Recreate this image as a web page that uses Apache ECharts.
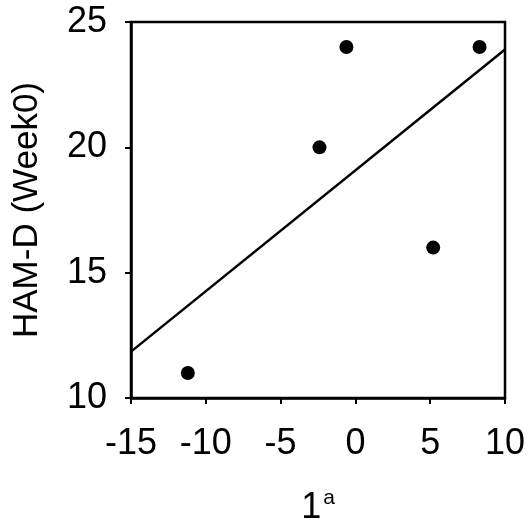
<!DOCTYPE html>
<html>
<head>
<meta charset="utf-8">
<script src="https://cdn.jsdelivr.net/npm/echarts@6/dist/echarts.min.js"></script>
<style>
  html, body { margin: 0; padding: 0; background: #fff; }
  #chart { width: 531px; height: 523px; }
</style>
</head>
<body>
<div id="chart"></div>
<script>
// 散点数据
const pointX = [-11.2, -2.4, -0.6, 5.2, 8.3]
const pointY = [11, 20, 24, 16, 24]
// 回归线两端
const lineX = [-15, 10]
const lineY = [11.85, 23.9]
const xTicks = [-15, -10, -5, 0, 5, 10]
const yTicks = [10, 15, 20, 25]

const font = 'Liberation Sans, Arial, sans-serif'

const chart = echarts.init(document.getElementById('chart'))

const option = {
  animation: false,
  backgroundColor: '#fff',
  grid: {
    left: 131, right: 26, top: 22, bottom: 125,
    outerBoundsMode: 'none',
    show: true, borderColor: '#000', borderWidth: 2.5,
  },
  xAxis: {
    type: 'value',
    min: xTicks[0],
    max: xTicks[xTicks.length - 1],
    interval: 5,
    name: '{n|1}{s|a}',
    nameLocation: 'middle',
    nameGap: 90,
    nameTextStyle: {
      rich: {
        n: { fontSize: 36, fontFamily: font, color: '#000' },
        s: { fontSize: 21, fontFamily: font, color: '#000', verticalAlign: 'bottom', padding: [0, 0, 20, 2] },
      },
    },
    axisLine: { onZero: false, lineStyle: { color: '#000', width: 2.5 } },
    axisTick: { show: true, inside: false, length: 6, lineStyle: { color: '#000', width: 2 } },
    axisLabel: { color: '#000', fontSize: 36, fontFamily: font, margin: 28 },
    splitLine: { show: false },
  },
  yAxis: {
    type: 'value',
    min: yTicks[0],
    max: yTicks[yTicks.length - 1],
    interval: 5,
    name: 'HAM-D (Week0)',
    nameLocation: 'middle',
    nameGap: 86,
    nameTextStyle: { color: '#000', fontSize: 35, fontFamily: font },
    axisLine: { onZero: false, lineStyle: { color: '#000', width: 2.5 } },
    axisTick: { show: true, inside: false, length: 6, lineStyle: { color: '#000', width: 2 } },
    axisLabel: { color: '#000', fontSize: 36, fontFamily: font, margin: 24 },
    splitLine: { show: false },
  },
  series: [
    {
      type: 'line',
      data: lineX.map((x, i) => [x, lineY[i]]),
      showSymbol: false,
      lineStyle: { color: '#000', width: 2.5 },
      z: 2,
    },
    {
      type: 'scatter',
      data: pointX.map((x, i) => [x, pointY[i]]),
      symbolSize: 14,
      itemStyle: { color: '#000', opacity: 1 },
      z: 3,
    },
  ],
}

chart.setOption(option)
</script>
</body>
</html>
